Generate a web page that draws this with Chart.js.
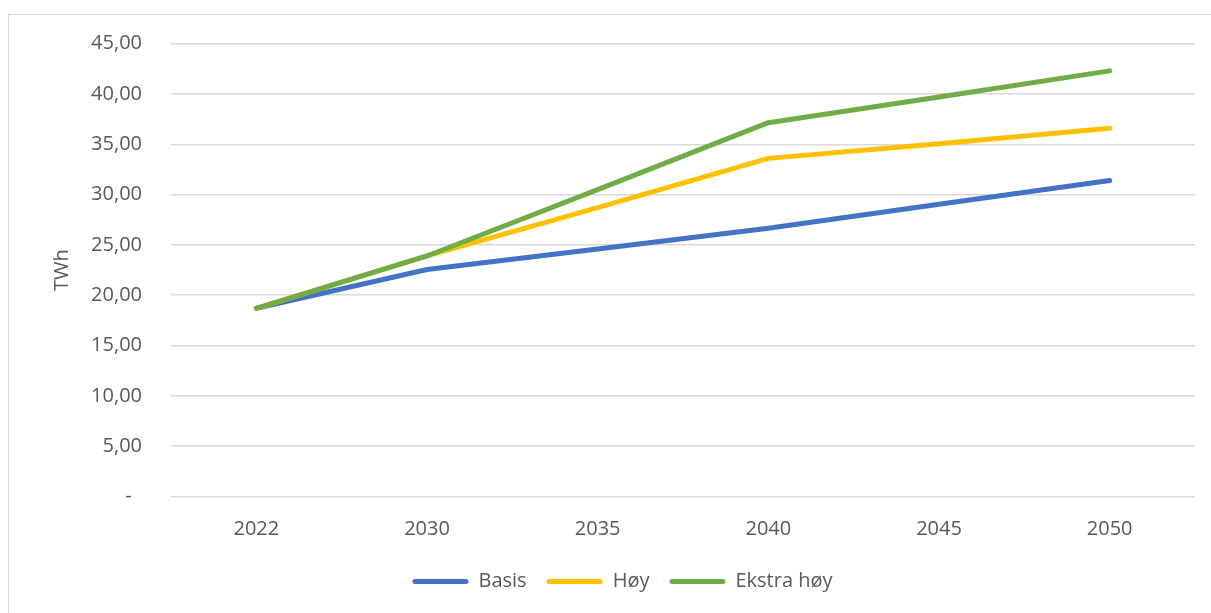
<!DOCTYPE html>
<html>
<head>
<meta charset="utf-8">
<script src="https://cdn.jsdelivr.net/npm/chart.js@4/dist/chart.umd.min.js"></script>
<style>
  html, body { margin: 0; padding: 0; background: #ffffff; overflow: hidden; }
  #frame { position: absolute; left: 8px; top: 14px; width: 1220px; height: 620px; border: 1.5px solid #d9d9d9; box-sizing: border-box; }
  #wrap { position: absolute; left: 0; top: 0; width: 1211px; height: 613px; }
</style>
</head>
<body>
<div id="frame"></div>
<div id="wrap"><canvas id="c" width="1211" height="613"></canvas></div>
<script>
const categories = ['2022', '2030', '2035', '2040', '2045', '2050'];
const basis = [18.70, 22.55, 24.60, 26.65, 29.05, 31.40];
const hoy = [18.70, 23.90, 28.70, 33.60, 35.05, 36.60];
const ekstraHoy = [18.70, 23.90, 30.50, 37.15, 39.70, 42.30];
const seriesNames = ['Basis', 'Høy', 'Ekstra høy'];
const yTicks = [0, 5, 10, 15, 20, 25, 30, 35, 40, 45];

const colors = ['#4472C4', '#FFC000', '#70AD47'];
const textColor = '#595959';
const fontFamily = '"Open Sans", "Liberation Sans", sans-serif';

function mk(name, data, color, order) {
  return {
    label: name, data: data, borderColor: color, backgroundColor: color,
    borderWidth: 5, pointRadius: 0, pointHoverRadius: 0, tension: 0,
    borderCapStyle: 'round', borderJoinStyle: 'round', fill: false, order: order
  };
}

new Chart(document.getElementById('c'), {
  type: 'line',
  data: {
    labels: categories,
    datasets: [
      mk(seriesNames[0], basis, colors[0], 2),
      mk(seriesNames[1], hoy, colors[1], 1),
      mk(seriesNames[2], ekstraHoy, colors[2], 0)
    ]
  },
  options: {
    responsive: false,
    animation: false,
    layout: { padding: { left: 50, right: 16, top: 43.7, bottom: 11.5 } },
    plugins: {
      tooltip: { enabled: false },
      legend: {
        position: 'bottom',
        labels: {
          boxWidth: 56, boxHeight: 5, padding: 20,
          useBorderRadius: true, borderRadius: 2.5,
          color: textColor,
          font: { family: fontFamily, size: 20 },
          sort: (a, b) => a.datasetIndex - b.datasetIndex,
          generateLabels: (chart) => Chart.defaults.plugins.legend.labels.generateLabels(chart).map(l => Object.assign(l, { lineWidth: 0 }))
        }
      }
    },
    scales: {
      x: {
        offset: true,
        grid: { display: false, drawTicks: false },
        border: { display: false },
        afterFit: (s) => { s.height = 55.1; },
        ticks: { color: textColor, font: { family: fontFamily, size: 20 }, padding: 20.5, maxRotation: 0 }
      },
      y: {
        min: 0, max: 45,
        afterBuildTicks: (s) => { s.ticks = yTicks.map(v => ({ value: v })); },
        afterFit: (s) => { s.width = 171 - 50; },
        title: { display: true, text: 'TWh', color: textColor, font: { family: fontFamily, size: 20 }, padding: { top: 0, bottom: 0 } },
        grid: { color: '#d9d9d9', lineWidth: 1.5, drawTicks: false },
        border: { display: false },
        ticks: {
          color: textColor, font: { family: fontFamily, size: 20 }, padding: 29,
          callback: (v) => v === 0 ? '-  ' : v.toFixed(2).replace('.', ',')
        }
      }
    }
  }
});
</script>
</body>
</html>
